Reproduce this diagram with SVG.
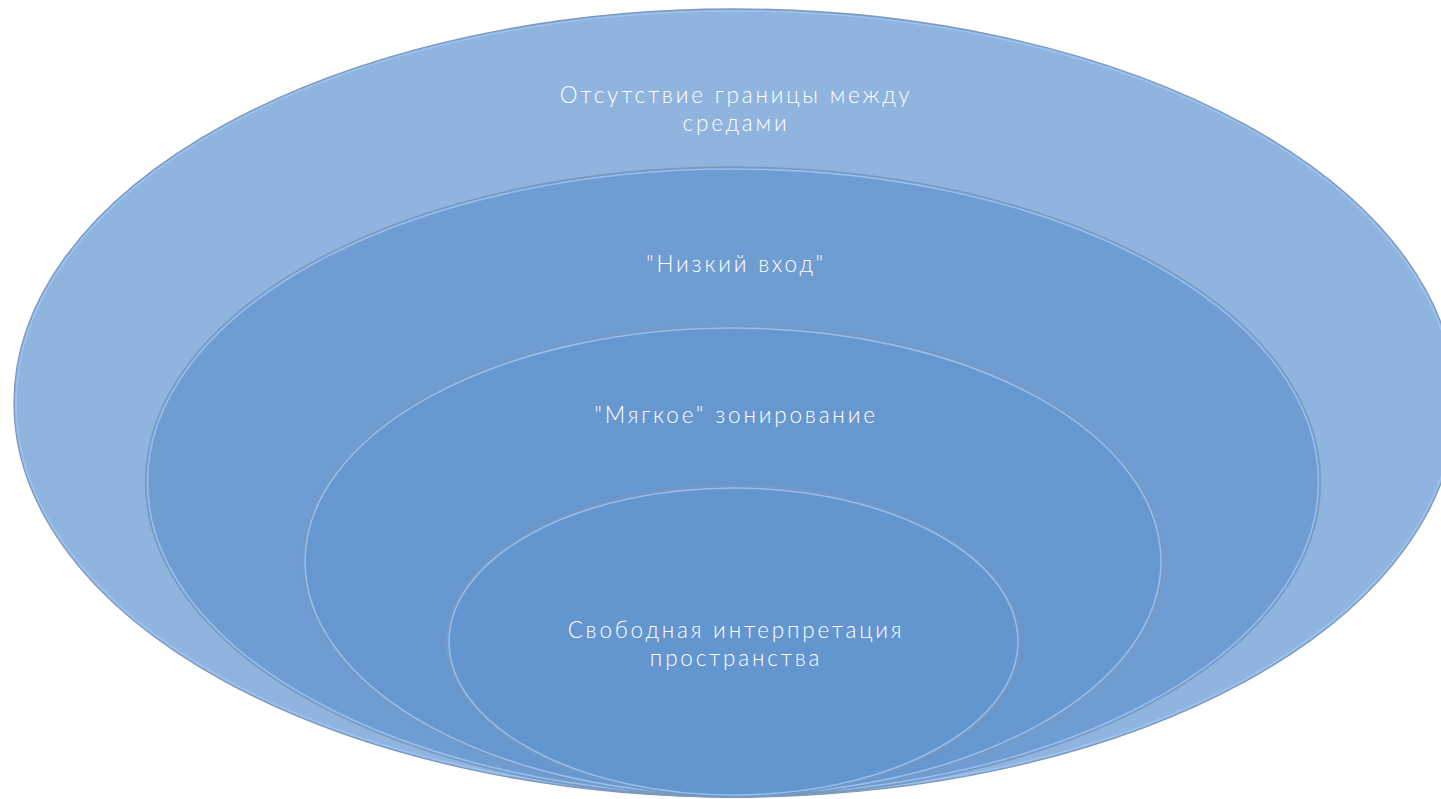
<svg xmlns="http://www.w3.org/2000/svg" width="1441" height="799" viewBox="0 0 1441 799">
<style>
.lbl{font-family:"Lato","Open Sans","Liberation Sans",sans-serif;font-weight:300;font-size:22.5px;letter-spacing:2.8px;fill:#ffffff;text-anchor:middle}
.edge{fill:none;stroke:#7d98bb;stroke-width:1.3}
.hi{fill:none;stroke:#9cc6f6;stroke-width:1.6;stroke-opacity:0.85}
</style>
<g id="ring1">
<ellipse cx="735" cy="403" rx="721" ry="394" fill="#8fb4dd"/>
<ellipse class="hi" cx="735" cy="403" rx="719" ry="392"/>
<ellipse class="edge" cx="735" cy="403" rx="721" ry="394"/>
<text class="lbl" x="736" y="103">Отсутствие границы между</text>
<text class="lbl" x="736" y="131">средами</text>
</g>
<g id="ring2">
<ellipse cx="733" cy="482" rx="587.5" ry="315" fill="#6f9dd1"/>
<ellipse class="hi" cx="733" cy="482" rx="585.5" ry="313"/>
<ellipse class="edge" cx="733" cy="482" rx="587.5" ry="315"/>
<text class="lbl" x="736" y="272">"Низкий вход"</text>
</g>
<g id="ring3">
<ellipse cx="733" cy="561.5" rx="430" ry="235.5" fill="#6797cf"/>
<ellipse class="hi" cx="733" cy="561.5" rx="428" ry="233.5"/>
<ellipse class="edge" cx="733" cy="561.5" rx="430" ry="235.5"/>
<text class="lbl" x="736" y="423">"Мягкое" зонирование</text>
</g>
<g id="ring4">
<ellipse cx="733.5" cy="641.5" rx="286.5" ry="155.5" fill="#6395ce"/>
<ellipse class="hi" cx="733.5" cy="641.5" rx="284.5" ry="153.5"/>
<ellipse class="edge" cx="733.5" cy="641.5" rx="286.5" ry="155.5"/>
<text class="lbl" x="736" y="638">Свободная интерпретация</text>
<text class="lbl" x="736" y="666">пространства</text>
</g>
<g id="connectors"/>
</svg>
